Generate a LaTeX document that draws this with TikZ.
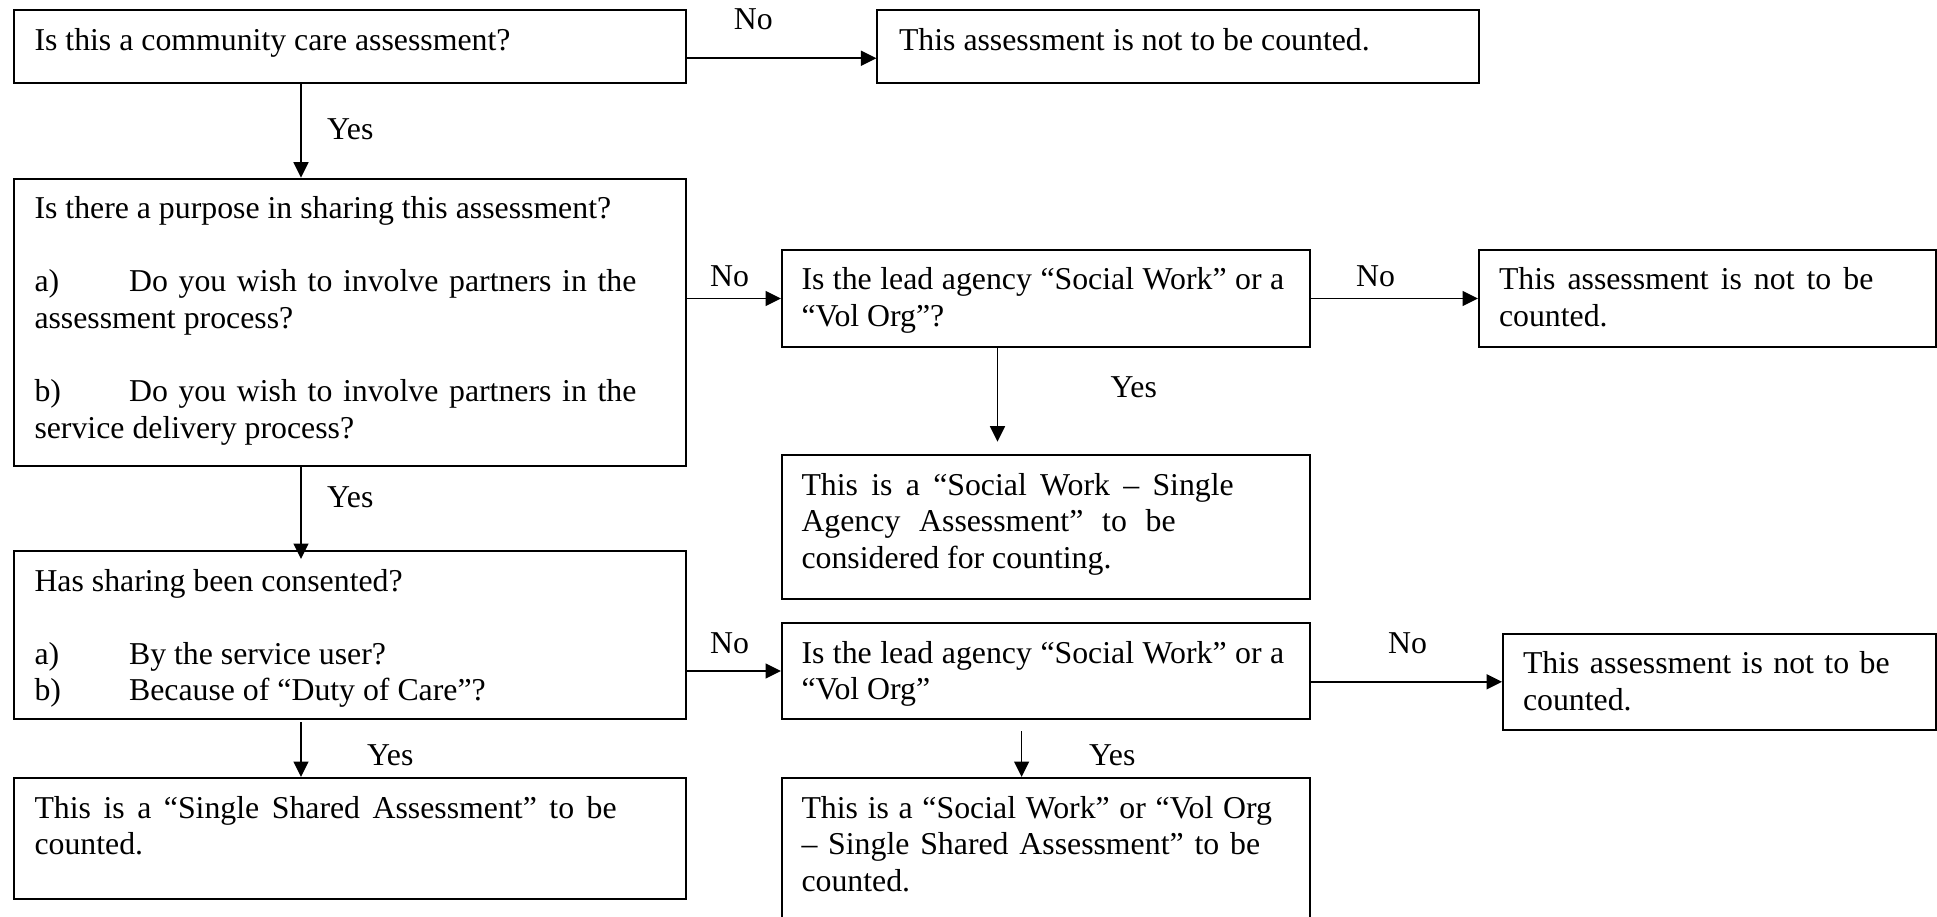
\documentclass[tikz,border=0pt]{standalone}
\usepackage{fontspec}
\setmainfont{Liberation Serif}
\usetikzlibrary{arrows.meta}
\tolerance=10000
\hbadness=10000
\hfuzz=3pt
\begin{document}
\begin{tikzpicture}[x=1pt,y=-1pt,
  flowbox/.style={draw, line width=2pt, anchor=north west, inner ysep=18pt,
    text height=22pt, font=\fontsize{31.8}{36.6}\selectfont,
    execute at begin node={\parindent=0pt\parskip=0pt\spaceskip=7.95pt plus 6pt minus 1.5pt\xspaceskip=7.95pt plus 6pt minus 1.5pt}},
  lbl/.style={anchor=base west, inner sep=0pt, font=\fontsize{31.8}{36.6}\selectfont},
  arr/.style={line width=1.7pt, -{Triangle[length=15.5pt,width=15pt]}}]
\useasboundingbox (0,0) rectangle (1937,917);
\fill[white] (0,0) rectangle (1937,917);
\clip (0,0) rectangle (1937,917);

% boxes
\node[flowbox, minimum width=672.4pt, minimum height=72.4pt, inner xsep=20.9pt,
  text width=630.6pt, text depth=14.4pt] (b1) at (12.6,9.3)
  {Is this a community care assessment?};
\node[flowbox, minimum width=601.3pt, minimum height=72.4pt, inner xsep=21.6pt,
  text width=558.1pt, text depth=14.4pt] (r0) at (876.4,9.3)
  {This assessment is not to be counted.};
\node[flowbox, minimum width=672.4pt, minimum height=287.3pt, inner xsep=20.9pt,
  text width=630.6pt, text depth=229.3pt] (b2) at (12.6,177.7)
  {Is there a purpose in sharing this assessment?\par\vspace{36.6pt}
   \makebox[94.6pt][l]{a)}Do you wish to involve partners in the\linebreak assessment process?\par\vspace{36.6pt}
   \makebox[94.6pt][l]{b)}Do you wish to involve partners in the\linebreak service delivery process?};
\node[flowbox, minimum width=528pt, minimum height=97pt, inner xsep=19.5pt,
  text width=489pt, text depth=39pt] (l1) at (781,249)
  {Is the lead agency “Social Work” or a\linebreak “Vol Org”?};
\node[flowbox, minimum width=457pt, minimum height=97pt, inner xsep=20pt,
  text width=417pt, text depth=39pt] (r1) at (1478,249)
  {This assessment is not to be\linebreak counted.};
\node[flowbox, minimum width=528pt, minimum height=144pt, inner xsep=19.5pt,
  text width=489pt, text depth=86pt] (s1) at (781,454)
  {This is a “Social Work – Single\linebreak Agency Assessment” to be\linebreak considered for counting.};
\node[flowbox, minimum width=672.4pt, minimum height=168pt, inner xsep=20.9pt,
  text width=630.6pt, text depth=110pt] (b3) at (12.6,550)
  {Has sharing been consented?\par\vspace{36.6pt}
   \makebox[94.6pt][l]{a)}By the service user?\par
   \makebox[94.6pt][l]{b)}Because of “Duty of Care”?};
\node[flowbox, minimum width=528pt, minimum height=96pt, inner xsep=19.5pt,
  text width=489pt, text depth=38pt] (l2) at (781,622)
  {Is the lead agency “Social Work” or a\linebreak “Vol Org”};
\node[flowbox, minimum width=433pt, minimum height=96.3pt, inner xsep=20pt,
  text width=393pt, text depth=38.3pt] (r2) at (1502,632.7)
  {This assessment is not to be\linebreak counted.};
\node[flowbox, minimum width=672.4pt, minimum height=121pt, inner xsep=20.9pt,
  text width=630.6pt, text depth=63pt] (b4) at (12.6,777)
  {This is a “Single Shared Assessment” to be\linebreak counted.};
\node[flowbox, minimum width=528pt, minimum height=170pt, inner xsep=19.5pt,
  text width=489pt, text depth=112pt] (s2) at (781,777)
  {This is a “Social Work” or “Vol Org\linebreak – Single Shared Assessment” to be\linebreak counted.};

% connectors
\draw[arr] ([yshift=-11.8pt]b1.east) -- ([yshift=-11.8pt]b1.east -| r0.west);
\draw[arr] ([xshift=288.4pt]b1.south west) -- ([xshift=288.4pt]b2.north west);
\draw[arr] (b2.east |- l1.west) -- (l1.west);
\draw[arr] (l1.east) -- (r1.west);
\draw[arr] ([xshift=216.5pt]l1.south west) -- ([xshift=216.5pt,yshift=12.3pt]s1.north west);
\draw[arr] ([xshift=288.4pt]b2.south west) -- ([xshift=288.4pt,yshift=-9pt]b3.north west);
\draw[arr] (b3.east |- l2.west) -- (l2.west);
\draw[arr] (l2.east |- r2.west) -- (r2.west);
\draw[arr] ([xshift=288.4pt,yshift=-2pt]b3.south west) -- ([xshift=288.4pt]b4.north west);
\draw[arr] ([xshift=240.6pt,yshift=-11pt]l2.south west) -- ([xshift=240.6pt]s2.north west);

% labels
\node[lbl] (no1) at (733.6,29.5) {No};
\node[lbl] (yes1) at (327,140) {Yes};
\node[lbl] (no2) at (710,287) {No};
\node[lbl] (no3) at (1356,287) {No};
\node[lbl] (yes2) at (1110.5,397) {Yes};
\node[lbl] (yes3) at (327,507) {Yes};
\node[lbl] (no4) at (710,653) {No};
\node[lbl] (yes4) at (367,765) {Yes};
\node[lbl] (no5) at (1388,653) {No};
\node[lbl] (yes5) at (1089,765) {Yes};
\end{tikzpicture}
\end{document}
